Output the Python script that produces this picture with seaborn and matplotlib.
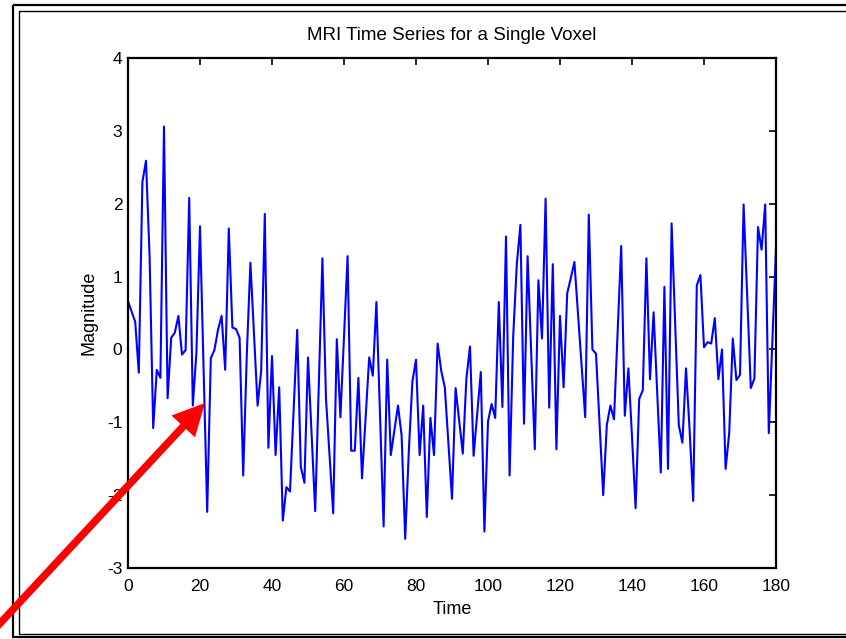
import numpy as np
import pandas as pd
import matplotlib
matplotlib.use("Agg")
import matplotlib.pyplot as plt
from matplotlib.patches import FancyArrow, Rectangle
import seaborn as sns

# ---- data ----
time = list(range(0, 181))
magnitude = [
    0.66, 0.52, 0.38, -0.32, 2.30, 2.59, 1.27, -1.08, -0.28, -0.39,
    3.06, -0.67, 0.16, 0.23, 0.46, -0.07, -0.01, 2.08, -0.77, -0.05,
    1.69, -0.27, -2.23, -0.12, -0.01, 0.27, 0.46, -0.28, 1.66, 0.30,
    0.28, 0.16, -1.73, -0.07, 1.19, 0.21, -0.77, -0.29, 1.86, -1.35,
    -0.09, -1.45, -0.52, -2.35, -1.89, -1.95, -0.85, 0.27, -1.61, -1.83,
    -0.11, -1.17, -2.22, -0.49, 1.25, -0.68, -1.47, -2.25, 0.14, -0.93,
    0.17, 1.28, -1.39, -1.39, -0.39, -1.77, -0.94, -0.11, -0.36, 0.65,
    -0.89, -2.43, -0.14, -1.45, -1.11, -0.77, -1.18, -2.60, -1.40, -0.44,
    -0.14, -1.45, -0.77, -2.30, -0.94, -1.45, 0.08, -0.29, -0.52, -1.29,
    -2.05, -0.53, -0.98, -1.43, -0.40, 0.04, -1.46, -0.88, -0.31, -2.50,
    -0.99, -0.75, -0.94, 0.65, -0.79, 1.55, -1.73, 0.18, 1.17, 1.71,
    -1.02, 1.28, -0.05, -1.37, 0.95, 0.15, 2.07, -0.80, 1.17, -1.37,
    0.46, -0.52, 0.77, 0.98, 1.20, 0.49, -0.22, -0.93, 1.85, 0.00,
    -0.06, -1.03, -2.00, -1.04, -0.77, -0.96, 0.23, 1.42, -0.91, -0.26,
    -1.20, -2.18, -0.68, -0.56, 1.25, -0.41, 0.51, -0.59, -1.69, 0.86,
    -1.64, 1.73, 0.34, -1.04, -1.28, -0.26, -1.10, -2.08, 0.88, 1.02,
    0.03, 0.10, 0.08, 0.43, -0.41, 0.00, -1.64, -1.15, 0.15, -0.42,
    -0.35, 1.99, 0.73, -0.53, -0.40, 1.68, 1.37, 1.99, -1.15, 0.12,
    1.39,
]
x_ticks = [0, 20, 40, 60, 80, 100, 120, 140, 160, 180]
y_ticks = [-3, -2, -1, 0, 1, 2, 3, 4]
title_text = "MRI Time Series for a Single Voxel"
x_label = "Time"
y_label = "Magnitude"

df = pd.DataFrame({"Time": time, "Magnitude": magnitude})

sns.set_theme(style="white")
plt.rcParams["font.family"] = ["Liberation Sans", "DejaVu Sans"]

W, H = 846, 639
fig = plt.figure(figsize=(W / 100, H / 100), dpi=100)
fig.patch.set_facecolor("white")

ax = fig.add_axes([128 / W, (H - 568) / H, 648 / W, 510 / H])
sns.lineplot(data=df, x="Time", y="Magnitude", ax=ax, color="#0000FF",
             linewidth=1.5, estimator=None, sort=False)

ax.set_xlim(0, 180)
ax.set_ylim(-3, 4)
ax.set_xticks(x_ticks)
ax.set_yticks(y_ticks)
ax.set_xticklabels([str(v) for v in x_ticks])
ax.set_yticklabels([str(v) for v in y_ticks])
ax.tick_params(axis="both", direction="in", length=5, width=1.2,
               colors="black", labelsize=12.5, top=True, right=True)
ax.tick_params(axis="x", pad=8)
ax.tick_params(axis="y", pad=4)
for s in ax.spines.values():
    s.set_visible(True)
    s.set_color("black")
    s.set_linewidth(1.6)
ax.set_title(title_text, fontsize=13.5, color="black", pad=13)
ax.set_xlabel(x_label, fontsize=13, color="black", labelpad=5)
ax.set_ylabel(y_label, fontsize=13, color="black", labelpad=7)
ax.grid(False)

# overlay in pixel coordinates for border frame and arrow
ov = fig.add_axes([0, 0, 1, 1], zorder=10)
ov.set_xlim(0, W)
ov.set_ylim(H, 0)
ov.axis("off")
ov.patch.set_alpha(0)
ov.add_patch(Rectangle((13, 4.5), W + 20, 632.5, fill=False,
                       edgecolor="black", linewidth=1.6))
ov.add_patch(Rectangle((19, 10.5), W + 20, 623.5, fill=False,
                       edgecolor="black", linewidth=1.0))

tip = (205, 403)
d = np.array([0.681, -0.732])
L = 335
tail = np.array(tip) - L * d
ov.add_patch(FancyArrow(tail[0], tail[1], L * d[0], L * d[1], width=7.5,
                        head_width=32, head_length=32,
                        length_includes_head=True, color="#FF0000",
                        linewidth=0))

fig.savefig("out.png", dpi=100)
